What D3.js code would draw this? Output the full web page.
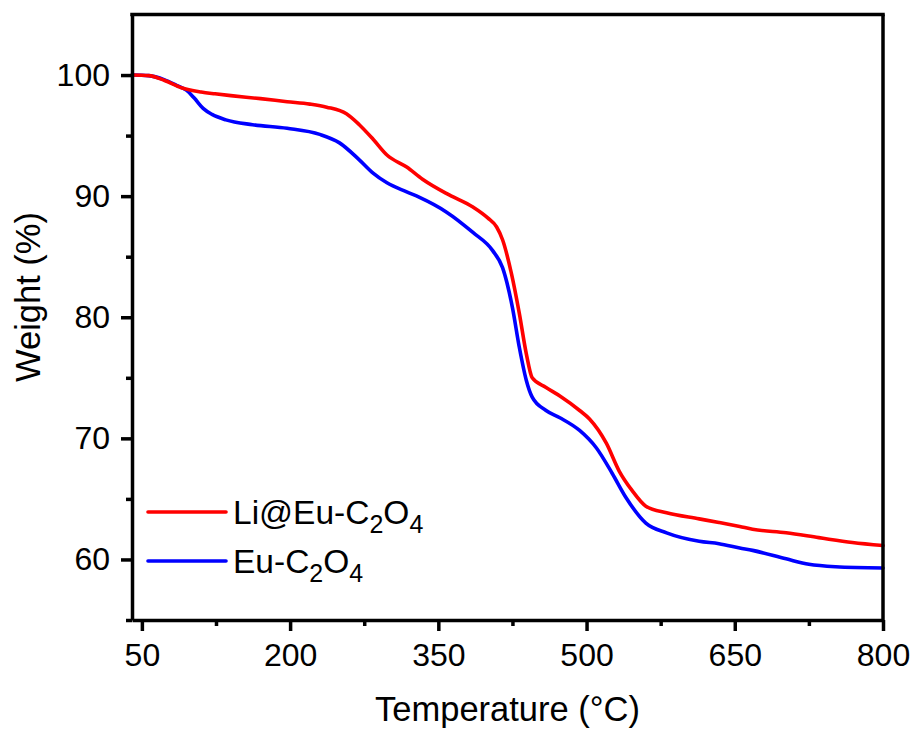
<!DOCTYPE html>
<html>
<head>
<meta charset="utf-8">
<script src="https://cdn.jsdelivr.net/npm/d3@7"></script>
<style>
  html, body { margin: 0; padding: 0; background: #fff; }
  svg { display: block; }
  text { font-family: "Liberation Sans", Arial, sans-serif; fill: #000; }
</style>
</head>
<body>
<svg id="chart" width="917" height="731"></svg>
<script>
// ---- data ----
const redTemp = [40, 57, 73, 90, 110, 124, 140, 170, 197, 220, 237, 257, 270, 284, 298, 318, 334, 361, 385, 400, 409, 415, 424, 432, 439, 445, 459, 473, 493, 503, 520, 533, 546, 560, 581, 614, 634, 655, 668, 702, 735, 769, 800];
const redWeight = [100, 99.95, 99.55, 98.95, 98.6, 98.45, 98.3, 98.05, 97.8, 97.6, 97.35, 96.8, 95.9, 94.7, 93.4, 92.4, 91.4, 90.1, 89.1, 88.2, 87.45, 86.4, 83.6, 80.3, 77.0, 75.0, 74.2, 73.5, 72.3, 71.6, 69.6, 67.3, 65.7, 64.4, 63.85, 63.35, 63.05, 62.72, 62.5, 62.2, 61.8, 61.4, 61.15];

const blueTemp = [40, 57, 73, 85, 95, 103, 112, 121, 135, 162, 197, 230, 250, 270, 284, 298, 318, 331, 358, 385, 405, 415, 425, 432, 439, 445, 459, 473, 493, 510, 526, 540, 560, 581, 614, 634, 655, 668, 702, 725, 752, 800];
const blueWeight = [100, 99.95, 99.6, 99.15, 98.75, 98.1, 97.25, 96.75, 96.3, 95.9, 95.6, 95.1, 94.4, 93.0, 91.9, 91.1, 90.35, 89.9, 88.7, 87.0, 85.5, 84.1, 80.8, 77.5, 74.8, 73.4, 72.3, 71.7, 70.65, 69.2, 67.1, 65.1, 63.0, 62.2, 61.5, 61.3, 60.95, 60.75, 60.05, 59.6, 59.4, 59.3];

const xTicks = [50, 200, 350, 500, 650, 800];
const xMinorTicks = [125, 275, 425, 575, 725];
const yTicks = [60, 70, 80, 90, 100];
const yMinorTicks = [55, 65, 75, 85, 95];
const seriesNames = ["Li@Eu-C|2|O|4", "Eu-C|2|O|4"];
const seriesColors = ["#ff0000", "#0000ff"];

// ---- layout ----
const svg = d3.select("#chart");
const pLeft = 132, pRight = 883, pTop = 14.5, pBottom = 620;
const x = d3.scaleLinear().domain([40, 800]).range([pLeft, pRight]);
const y = d3.scaleLinear().domain([55, 105]).range([pBottom, pTop]);
const axisW = 3.5;

// ---- lines ----
const line = d3.line().x(d => x(d[0])).y(d => y(d[1])).curve(d3.curveMonotoneX);
const series = [
  d3.zip(redTemp, redWeight),
  d3.zip(blueTemp, blueWeight)
];
[1, 0].forEach(i => {
  svg.append("path")
    .datum(series[i])
    .attr("fill", "none")
    .attr("stroke", seriesColors[i])
    .attr("stroke-width", 3.6)
    .attr("stroke-linejoin", "round")
    .attr("stroke-linecap", "round")
    .attr("d", line);
});

// ---- axes ----
const xAxis = svg.append("g").attr("transform", `translate(0,${pBottom})`)
  .call(d3.axisBottom(x).tickValues(xTicks).tickSize(11).tickPadding(12).tickSizeOuter(0));
const xMinor = svg.append("g").attr("transform", `translate(0,${pBottom})`)
  .call(d3.axisBottom(x).tickValues(xMinorTicks).tickSize(6).tickFormat("").tickSizeOuter(0));
const yAxis = svg.append("g").attr("transform", `translate(${pLeft},0)`)
  .call(d3.axisLeft(y).tickValues(yTicks).tickSize(11).tickPadding(11).tickSizeOuter(0));
const yMinor = svg.append("g").attr("transform", `translate(${pLeft},0)`)
  .call(d3.axisLeft(y).tickValues(yMinorTicks).tickSize(6).tickFormat("").tickSizeOuter(0));

[xAxis, xMinor, yAxis, yMinor].forEach(g => {
  g.selectAll(".domain").attr("stroke", "#000").attr("stroke-width", axisW);
  g.selectAll(".tick line").attr("stroke", "#000").attr("stroke-width", axisW);
  g.selectAll(".tick text")
    .style("font-family", '"Liberation Sans", Arial, sans-serif')
    .style("font-size", "32px").attr("fill", "#000");
});
xMinor.select(".domain").remove();
yMinor.select(".domain").remove();

// frame top and right
svg.append("line").attr("x1", pLeft - axisW / 2).attr("x2", pRight + axisW / 2)
  .attr("y1", pTop).attr("y2", pTop).attr("stroke", "#000").attr("stroke-width", axisW);
svg.append("line").attr("x1", pRight).attr("x2", pRight)
  .attr("y1", pTop).attr("y2", pBottom + axisW / 2).attr("stroke", "#000").attr("stroke-width", axisW);

// ---- axis titles ----
svg.append("text")
  .attr("x", (pLeft + pRight) / 2).attr("y", 721)
  .attr("text-anchor", "middle")
  .style("font-size", "34.5px")
  .text("Temperature (°C)");

svg.append("text")
  .attr("transform", `translate(40,297) rotate(-90)`)
  .attr("text-anchor", "middle")
  .style("font-size", "34.5px")
  .text("Weight (%)");

// ---- legend ----
const legY = [512, 561];
seriesNames.forEach((name, i) => {
  svg.append("line")
    .attr("x1", 148).attr("x2", 226)
    .attr("y1", legY[i]).attr("y2", legY[i])
    .attr("stroke", seriesColors[i]).attr("stroke-width", 3.6)
    .attr("stroke-linecap", "round");
  const t = svg.append("text").attr("x", 233).attr("y", legY[i] + 11.5)
    .style("font-size", "33.5px");
  const parts = name.split("|");
  parts.forEach((p, k) => {
    const sub = k % 2 === 1;
    const ts = t.append("tspan").text(p);
    if (sub) ts.style("font-size", "25px").attr("dy", 9);
    else if (k > 0) ts.attr("dy", -9);
  });
});
</script>
</body>
</html>
